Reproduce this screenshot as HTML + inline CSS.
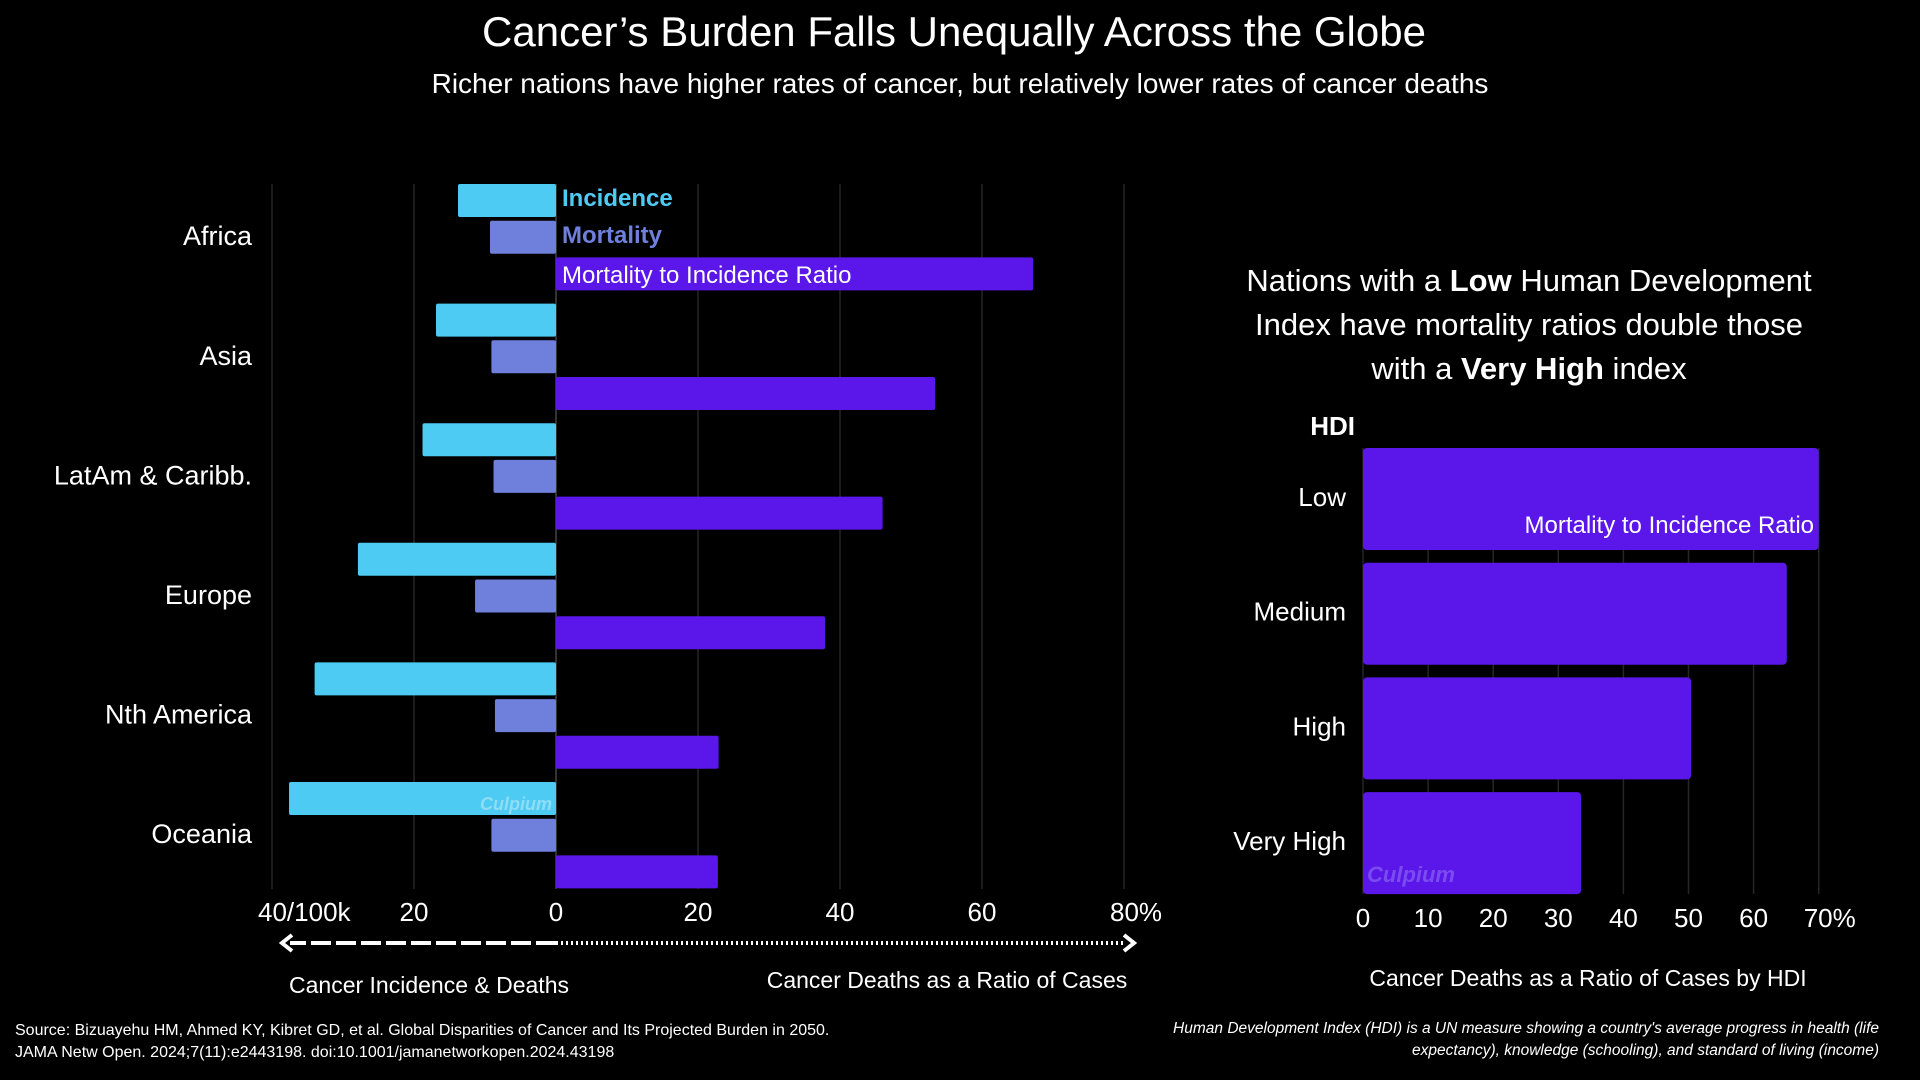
<!DOCTYPE html>
<html><head><meta charset="utf-8">
<style>
html,body{margin:0;padding:0;background:#000;}
svg{display:block;font-family:"Liberation Sans",sans-serif;}
</style></head>
<body>
<svg id="chart" width="1920" height="1080" viewBox="0 0 1920 1080">
<rect width="1920" height="1080" fill="#000"/>
<text x="954" y="46" text-anchor="middle" fill="#fff" font-size="42">Cancer’s Burden Falls Unequally Across the Globe</text>
<text x="960" y="93" text-anchor="middle" fill="#fff" font-size="28">Richer nations have higher rates of cancer, but relatively lower rates of cancer deaths</text>
<g id="left"></g>
<g id="right"></g>
<text x="1529" y="291" text-anchor="middle" fill="#fff" font-size="31">Nations with a <tspan font-weight="bold">Low</tspan> Human Development</text>
<text x="1529" y="335" text-anchor="middle" fill="#fff" font-size="31">Index have mortality ratios double those</text>
<text x="1529" y="379" text-anchor="middle" fill="#fff" font-size="31">with a <tspan font-weight="bold">Very High</tspan> index</text>
<text x="15" y="1035" fill="#fff" font-size="16">Source: Bizuayehu HM, Ahmed KY, Kibret GD, et al. Global Disparities of Cancer and Its Projected Burden in 2050.</text>
<text x="15" y="1057" fill="#fff" font-size="16">JAMA Netw Open. 2024;7(11):e2443198. doi:10.1001/jamanetworkopen.2024.43198</text>
<text x="1879" y="1033" text-anchor="end" fill="#fff" font-size="15.5" font-style="italic">Human Development Index (HDI) is a UN measure showing a country's average progress in health (life</text>
<text x="1879" y="1055" text-anchor="end" fill="#fff" font-size="15.5" font-style="italic">expectancy), knowledge (schooling), and standard of living (income)</text>
</svg>
<script>
const regions = ["Africa","Asia","LatAm & Caribb.","Europe","Nth America","Oceania"];
const incidence = [13.8,16.9,18.8,27.9,34.0,37.6];
const mortality = [9.3,9.1,8.8,11.4,8.6,9.1];
const ratio = [67.2,53.4,46.0,37.9,22.9,22.8];
const leftTicks = [-40,-20,0,20,40,60,80];
const leftTickLabels = ["40/100k","20","0","20","40","60","80%"];
const hdiCats = ["Low","Medium","High","Very High"];
const hdiRatio = [70,65.1,50.4,33.5];
const hdiTicks = [0,10,20,30,40,50,60,70];
const hdiTickLabels = ["0","10","20","30","40","50","60","70%"];

const NS="http://www.w3.org/2000/svg";
function mk(parent,tag,attrs,text){const e=document.createElementNS(NS,tag);for(const k in attrs)e.setAttribute(k,attrs[k]);if(text!==undefined)e.textContent=text;parent.appendChild(e);return e;}

// left chart
const L=document.getElementById('left');
const x0=556, unit=7.1;
const xs=v=>x0+v*unit;
const topY=184, gstep=119.6, bstep=36.7, bh=33;
leftTicks.forEach((t,i)=>{
  const g=mk(L,'line',{x1:xs(t),x2:xs(t),y1:184,y2:889,stroke:t===0?'#444':'#262626','stroke-width':1.5});
  
  
  const lab=leftTickLabels[i];
  const hasUnit=/[^0-9]/.test(lab);
  const tl=mk(L,'text',{x:hasUnit?xs(t)-14:xs(t),y:921,'text-anchor':hasUnit?'start':'middle',fill:'#fff','font-size':26},lab);
  
  
});
regions.forEach((r,i)=>{
  const y=topY+i*gstep;
  const a=mk(L,'rect',{x:xs(-incidence[i]),y:y,width:incidence[i]*unit,height:bh,fill:'#4ecbf2',rx:2});
  
  
  const b=mk(L,'rect',{x:xs(-mortality[i]),y:y+bstep,width:mortality[i]*unit,height:bh,fill:'#6f7fdc',rx:2});
  
  
  const c=mk(L,'rect',{x:x0,y:y+2*bstep,width:ratio[i]*unit,height:bh,fill:'#5b17e9',rx:2});
  
  
  const t=mk(L,'text',{x:252,y:y+bstep+bh/2+8,'text-anchor':'end',fill:'#fff','font-size':27},r);
  
  
});
let t1=mk(L,'text',{x:562,y:206,fill:'#4ecbf2','font-size':24,'font-weight':'bold'},'Incidence');


let t2=mk(L,'text',{x:562,y:243,fill:'#6f7fdc','font-size':24,'font-weight':'bold'},'Mortality');


let t3=mk(L,'text',{x:562,y:283,fill:'#fff','font-size':24},'Mortality to Incidence Ratio');


let w1=mk(L,'text',{x:552,y:810,'text-anchor':'end',fill:'#8fdcf5','font-size':18,'font-style':'italic','font-weight':'bold'},'Culpium');


// arrows
let ar1=mk(L,'line',{x1:xs(0),x2:290,y1:943,y2:943,stroke:'#fff','stroke-width':4,'stroke-dasharray':'20,5'});


let ah1=mk(L,'path',{d:'M292,935 L282,943 L292,951',fill:'none',stroke:'#fff','stroke-width':4});


let ar2=mk(L,'line',{x1:xs(0),x2:1124,y1:943,y2:943,stroke:'#fff','stroke-width':4,'stroke-dasharray':'2,3'});


let ah2=mk(L,'path',{d:'M1124,935 L1134,943 L1124,951',fill:'none',stroke:'#fff','stroke-width':4});


let at1=mk(L,'text',{x:429,y:993,'text-anchor':'middle',fill:'#fff','font-size':23},'Cancer Incidence & Deaths');


let at2=mk(L,'text',{x:947,y:988,'text-anchor':'middle',fill:'#fff','font-size':23},'Cancer Deaths as a Ratio of Cases');



// right chart
const R=document.getElementById('right');
const h0=1363, hu=6.51;
const hx=v=>h0+v*hu;
const htop=448, hstep=114.7, hbh=102;
hdiTicks.forEach((t,i)=>{
  const g=mk(R,'line',{x1:hx(t),x2:hx(t),y1:448,y2:894,stroke:'#262626','stroke-width':1.5});
  
  
  const lab=hdiTickLabels[i];
  const hasUnit=/[^0-9]/.test(lab);
  const tl=mk(R,'text',{x:hasUnit?hx(t)-15:hx(t),y:927,'text-anchor':hasUnit?'start':'middle',fill:'#fff','font-size':26},lab);
  
  
});
hdiCats.forEach((c,i)=>{
  const y=htop+i*hstep;
  const b=mk(R,'rect',{x:h0,y:y,width:hdiRatio[i]*hu,height:hbh,fill:'#5b17e9',rx:4});
  
  
  const t=mk(R,'text',{x:1346,y:y+58,'text-anchor':'end',fill:'#fff','font-size':26},c);
  
  
});
let hl=mk(R,'text',{x:1355,y:435,'text-anchor':'end',fill:'#fff','font-size':26,'font-weight':'bold'},'HDI');


let hr=mk(R,'text',{x:1814,y:533,'text-anchor':'end',fill:'#fff','font-size':24},'Mortality to Incidence Ratio');


let w2=mk(R,'text',{x:1367,y:882,fill:'#7a4cf0','font-size':22,'font-style':'italic','font-weight':'bold'},'Culpium');


let ht=mk(R,'text',{x:1588,y:986,'text-anchor':'middle',fill:'#fff','font-size':23},'Cancer Deaths as a Ratio of Cases by HDI');


</script>
</body></html>
